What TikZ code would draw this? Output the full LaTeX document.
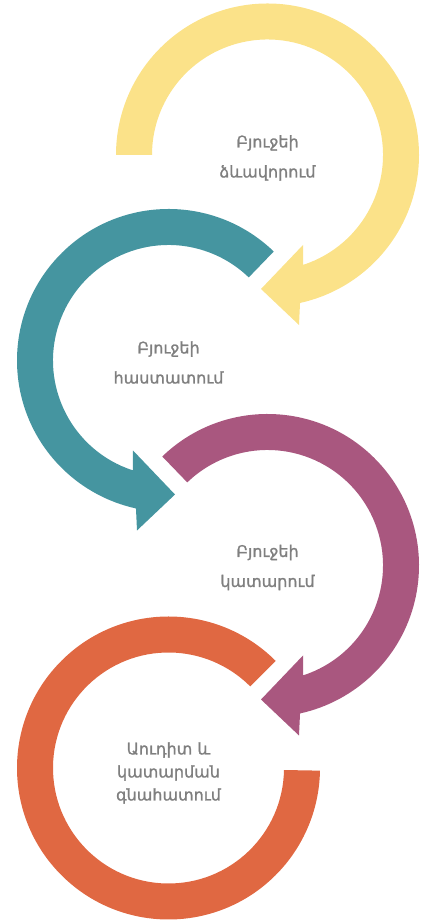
\documentclass[tikz,border=0pt]{standalone}
\usepackage{fontspec}
\setmainfont{DejaVu Sans}
\newfontfamily\stagefont{DejaVu Sans}[FakeBold=1.3]
\usepackage{xcolor}
\usepackage{tikz}
\usetikzlibrary{calc}

\definecolor{FormYellow}{HTML}{FBE289}
\definecolor{ApproveTeal}{HTML}{4595A0}
\definecolor{RunPurple}{HTML}{A9577F}
\definecolor{AuditOrange}{HTML}{E06842}
\definecolor{LabelGray}{HTML}{7F7F7F}

\newcommand{\RingArrow}[4][1]{
	\def\lflip{#1}
	\def\lpin{#2}
	\def\lstart{#3}
	\def\lfill{#4}
	\def\rin{115.5}
	\def\rout{151.5}
	\begin{scope}[shift={(\lpin)}, xscale=\lflip]
		\fill[\lfill] (\lstart:\rout) arc[start angle=\lstart, end angle=-77.6, radius=\rout] -- (31.5,-170) -- (-6.5,-134) -- (35.5,-90) -- (-72:\rin) arc[start angle=-72, end angle=\lstart, radius=\rin] -- cycle;
	\end{scope}
}

\tikzset{
	stage/.style={align=center, text=LabelGray, inner sep=0pt, font=\stagefont\fontsize{16}{30}\selectfont},
}

\begin{document}
\begin{tikzpicture}[x=1pt, y=1pt]
	\useasboundingbox (0,0) rectangle (429,920);

	\coordinate (C1) at (267.5, 765);
	\coordinate (C2) at (168.5, 559.5);
	\coordinate (C3) at (267.5, 354.5);
	\coordinate (C4) at (168.5, 152);

	\RingArrow{C1}{180}{FormYellow}
	\RingArrow[-1]{C2}{134}{ApproveTeal}
	\RingArrow{C3}{134}{RunPurple}

	% last ring has no head
	\fill[AuditOrange] ($(C4)+(45:151.5)$) arc[start angle=45, end angle=359, radius=151.5] -- ($(C4)+(359:115.5)$) arc[start angle=359, end angle=45, radius=115.5] -- cycle;

	\node[stage] (form) at ($(C1)+(0,-3)$) {Բյուջեի\\ձևավորում};
	\node[stage] (approve) at ($(C2)+(0,-2)$) {Բյուջեի\\հաստատում};
	\node[stage] (run) at ($(C3)+(0,-2)$) {Բյուջեի\\կատարում};
	\node[stage, font=\stagefont\fontsize{16}{23}\selectfont] (audit) at ($(C4)+(0,-5)$) {Աուդիտ և\\կատարման\\գնահատում};

\end{tikzpicture}
\end{document}
